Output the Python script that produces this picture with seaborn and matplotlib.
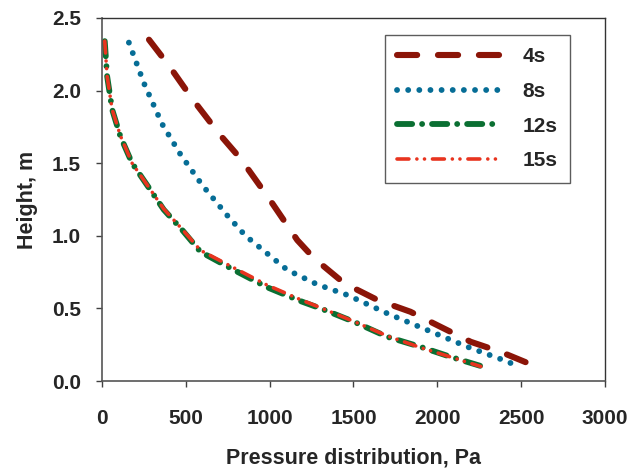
import matplotlib
matplotlib.use("Agg")
import matplotlib.pyplot as plt
import seaborn as sns
import pandas as pd

# ---- data ----
x_4s = [280, 400, 540, 700, 827, 1000, 1165, 1265, 1445, 1645, 1840, 2020, 2200, 2380, 2590]
y_4s = [2.35, 2.17, 1.94, 1.70, 1.53, 1.25, 0.97, 0.845, 0.673, 0.557, 0.477, 0.373, 0.27, 0.20, 0.10]

x_8s = [160, 250, 358, 468, 597, 747, 856, 1105, 1284, 1464, 1703, 1942, 2181, 2370, 2490]
y_8s = [2.33, 2.05, 1.77, 1.56, 1.35, 1.14, 1.00, 0.765, 0.665, 0.592, 0.465, 0.35, 0.235, 0.155, 0.10]

x_12s = [16, 30, 60, 109, 179, 278, 368, 478, 587, 786, 986, 1185, 1304, 1503, 1703, 1901, 2081, 2270]
y_12s = [2.34, 2.10, 1.87, 1.685, 1.50, 1.333, 1.18, 1.04, 0.89, 0.765, 0.645, 0.55, 0.50, 0.408, 0.304, 0.235, 0.166, 0.10]

x_15s = [16, 30, 60, 109, 179, 278, 368, 478, 587, 786, 986, 1185, 1304, 1503, 1703, 1901, 2081, 2260]
y_15s = [2.34, 2.10, 1.87, 1.69, 1.50, 1.335, 1.185, 1.045, 0.90, 0.78, 0.66, 0.56, 0.505, 0.41, 0.31, 0.23, 0.165, 0.10]

labels = ["4s", "8s", "12s", "15s"]
x_ticks = [0, 500, 1000, 1500, 2000, 2500, 3000]
y_ticks = [0.0, 0.5, 1.0, 1.5, 2.0, 2.5]

series = {"4s": (x_4s, y_4s), "8s": (x_8s, y_8s), "12s": (x_12s, y_12s), "15s": (x_15s, y_15s)}
colors = {"4s": "#8b1508", "8s": "#066d96", "12s": "#0a6f32", "15s": "#e8341f"}
widths = {"4s": 4.4, "8s": 4.2, "12s": 4.2, "15s": 2.6}
styles = {
    "4s": (0, (3.3, 3.4)),
    "8s": (0, (0.01, 1.9)),
    "12s": (0, (2.6, 1.7, 0.01, 1.7)),
    "15s": (0, (3.3, 2.2, 0.01, 2.1, 0.01, 2.2)),
}

sns.set_theme(style="white")
plt.rcParams["font.family"] = ["Liberation Sans", "DejaVu Sans"]
plt.rcParams["font.weight"] = "bold"

FS = 15

fig = plt.figure(figsize=(6.34, 4.71), dpi=100)
ax = fig.add_axes([0.161, 0.191, 0.793, 0.771])

for lab in labels:
    xs, ys = series[lab]
    df = pd.DataFrame({"x": xs, "y": ys})
    sns.lineplot(data=df, x="x", y="y", ax=ax, color=colors[lab], lw=widths[lab],
                 linestyle=styles[lab], sort=False, estimator=None, label=lab)
    ln = ax.lines[-1]
    ln.set_dash_capstyle("round")
    ln.set_solid_capstyle("round")

ax.set_xlim(0, 3000)
ax.set_ylim(0, 2.5)
ax.set_xticks(x_ticks)
ax.set_xticklabels([str(t) for t in x_ticks])
ax.set_yticks(y_ticks)
ax.set_yticklabels([f"{t:.1f}" for t in y_ticks])

ax.tick_params(axis="x", direction="out", length=4, width=1, color="#404040",
               pad=16, labelsize=FS, bottom=True)
ax.tick_params(axis="y", direction="out", length=4, width=1, color="#404040",
               pad=11, labelsize=FS, left=True)
for lab in ax.get_xticklabels() + ax.get_yticklabels():
    lab.set_fontweight("bold")

for s in ["left", "bottom"]:
    ax.spines[s].set_color("#555555")
    ax.spines[s].set_linewidth(1.2)
for s in ["top", "right"]:
    ax.spines[s].set_color("#333333")
    ax.spines[s].set_linewidth(1.0)

ax.set_xlabel("Pressure distribution, Pa", fontsize=FS + 0.5, fontweight="bold", labelpad=14)
ax.set_ylabel("Height, m", fontsize=FS + 0.5, fontweight="bold", labelpad=10)

leg = ax.legend(loc="upper right", bbox_to_anchor=(0.930, 0.953), borderaxespad=0,
                fancybox=False, frameon=True, edgecolor="#333333",
                handlelength=5.0, handletextpad=1.0, labelspacing=0.75,
                borderpad=0.6, prop={"weight": "bold", "size": FS})
leg.get_frame().set_linewidth(1.0)
for h in leg.get_lines():
    h.set_dash_capstyle("round")

fig.savefig("out.png", dpi=100)
